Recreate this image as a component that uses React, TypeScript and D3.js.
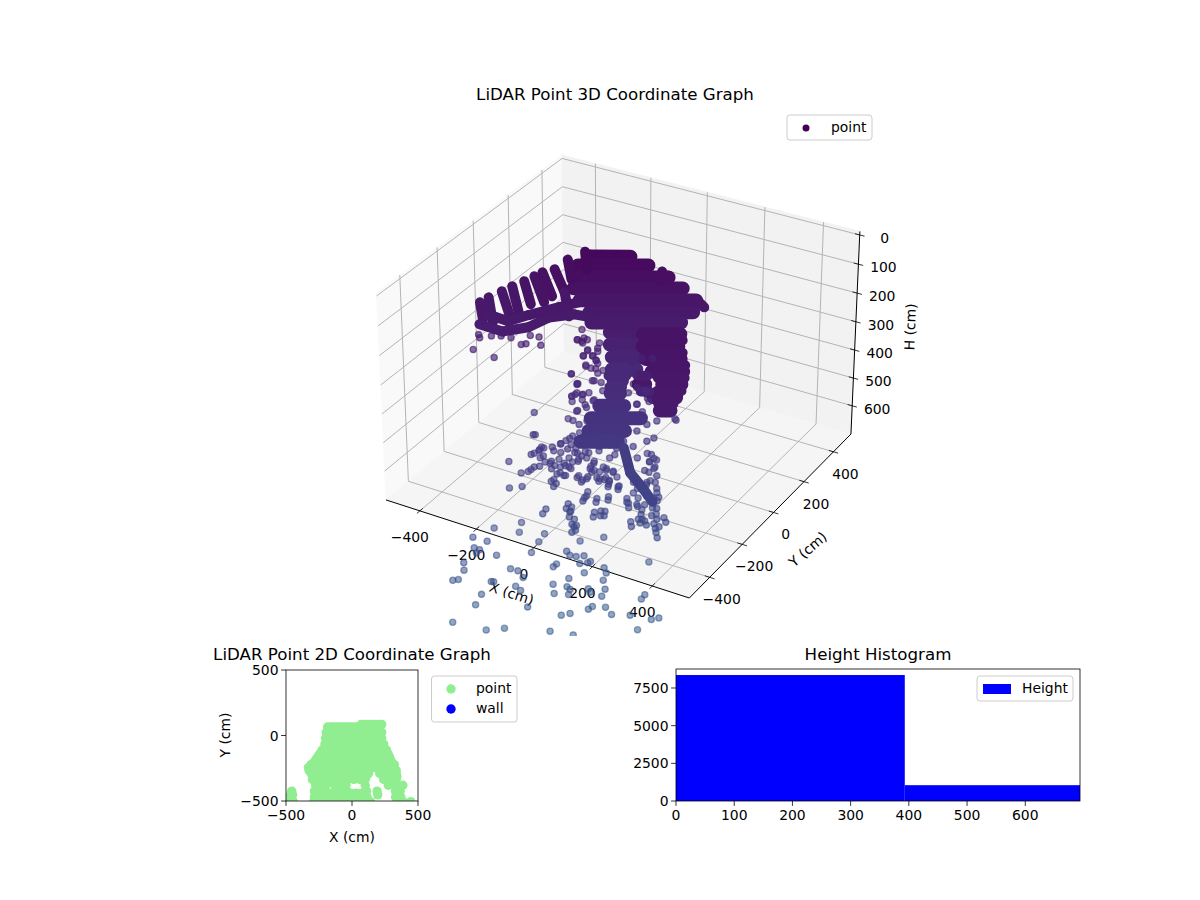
import React from "react";
import * as d3 from "d3";

type P = [number, number, number];

// ---- 3D scatter: isolated points, x, y, height in cm
const frontPoints: P[] = [
[72,-1069,614],[164,-1041,625],[205,-1011,623],[319,-955,627],[380,-932,632],[527,-830,625],[562,-772,608],[546,-786,610],[489,-805,604],[443,-829,603],
[419,-821,592],[386,-837,591],[380,-849,595],[342,-885,601],[323,-901,604],[101,-995,589],[100,-962,574],[10,-969,553],[22,-959,552],[22,-929,538],
[10,-911,527],[13,-860,505],[29,-857,508],[26,-869,513],[79,-847,516],[-6,-836,489],[35,-826,495],[32,-783,476],[100,-758,482],[91,-731,467],
[133,-860,536],[154,-855,539],[176,-863,549],[230,-928,592],[105,-918,555],[111,-915,555],[171,-895,562],[189,-898,568],[259,-838,559],[275,-859,572],
[296,-824,563],[308,-827,566],[311,-841,574],[289,-802,550],[351,-800,565],[360,-806,570],[394,-799,576],[392,-777,566],[375,-758,553],[372,-736,542],
[359,-726,535],[318,-766,542],[294,-750,528],[312,-737,527],[317,-730,525],[293,-725,517],[275,-738,518],[258,-744,516],[244,-738,510],[262,-694,495],
[315,-652,489],[234,-795,533],[238,-784,529],[162,-754,496],[164,-726,484],[160,-791,512],[460,-649,526],[494,-751,580],[496,-735,574],
];
const middlePoints: P[] = [
[436,-566,482],[434,-517,460],[418,-547,469],[358,-574,466],[373,-557,462],[382,-552,462],[391,-552,465],[410,-519,454],[216,-648,462],[230,-660,472],
[226,-667,474],[131,-663,447],[178,-618,439],[191,-621,444],[195,-633,450],[208,-559,421],[209,-580,430],[241,-564,431],[267,-543,428],[255,-602,452],
[269,-589,450],[280,-585,450],[315,-521,431],[326,-531,438],[9,-662,415],[38,-640,413],[15,-607,392],[34,-584,387],[-33,-596,374],[-9,-489,333],
[-46,-433,298],[317,-246,308],[49,-400,308],[23,-336,273],[19,-294,253],[17,-538,362],[25,-521,356],[33,-511,354],[53,-497,352],[68,-476,347],
[77,-460,342],[87,-439,335],[99,-420,330],[39,-541,369],[58,-545,375],[72,-534,374],[88,-518,371],[111,-500,369],[125,-476,362],[142,-461,359],
[96,-463,349],[113,-465,354],[126,-446,349],[87,-540,381],[103,-536,383],[114,-525,381],[126,-506,375],[137,-490,371],[155,-475,369],[179,-473,374],
[178,-490,382],[193,-497,388],[106,-577,402],[118,-584,408],[111,-550,392],[129,-550,396],[162,-532,396],[178,-537,403],[186,-521,398],[218,-510,401],
[220,-474,385],[241,-471,389],[259,-481,398],[245,-500,404],[232,-498,399],[249,-511,409],[276,-504,413],[208,-492,390],[210,-474,383],[308,-471,406],
[330,-470,412],[341,-452,406],[362,-440,406],[381,-464,422],[380,-482,430],[361,-487,427],[342,-504,430],[323,-498,422],[348,-522,440],[368,-528,448],
[392,-509,445],[393,-484,434],[338,-406,385],[331,-423,391],[317,-395,375],[323,-379,370],[299,-376,362],[347,-442,404],
];
const upperPoints: P[] = [
[49,-315,269],[60,-365,295],[78,-345,290],[84,-317,280],[85,-399,317],[111,-384,317],[118,-357,306],[118,-416,333],[138,-391,327],[166,-400,338],
[193,-408,349],[170,-427,351],[215,-407,354],[222,-379,343],[254,-379,351],[280,-345,343],[240,-333,327],[293,-327,338],[275,-278,311],[255,-301,317],
[220,-299,306],[199,-263,285],[210,-222,269],[160,-214,253],[-301,-357,198],[-235,-347,211],[-304,-316,179],[-312,-309,174],[-329,-282,157],[-277,-294,176],
[-252,-280,176],[-224,-270,179],[-187,-273,190],[-176,-264,189],[-136,-246,191],[-178,-236,175],[-154,-226,178],[-38,-175,185],[-52,-178,182],[-26,-163,182],
[-10,-213,208],[13,-199,208],[-9,-190,198],[14,-171,196],[28,-205,215],[12,-236,225],[41,-228,229],[-13,-278,237],[18,-297,254],[56,-263,248],
[29,-327,270],[47,-317,270],[180,-216,259],[217,-231,276],
];
const trunkPoints: P[] = [
[-51,-177,182],[-33,-178,188],[-37,-163,179],[-56,-143,166],[10,-153,188],[19,-179,201],[-8,-192,200],[-11,-212,208],[13,-198,208],[30,-206,216],
[10,-233,223],[28,-234,228],[53,-237,236],[51,-265,248],[-13,-277,237],[17,-295,252],[62,-222,232],[76,-257,251],[38,-212,220],[31,-320,267],
[23,-336,273],[32,-349,281],[55,-330,278],[61,-302,267],[85,-313,278],[70,-339,286],[59,-369,296],[64,-398,311],[99,-378,311],[104,-327,289],
[93,-277,264],[129,-349,306],[175,-218,259],[200,-262,285],[169,-118,212],[322,-248,310],[202,-215,264],[226,-238,281],[225,-275,297],[122,-157,218],
[145,-186,237],[143,-133,212],[161,-245,267],
[-14,-492,333],[11,-545,364],[25,-525,358],[26,-512,352],[44,-532,366],[38,-573,383],[50,-563,382],[30,-593,390],[72,-541,377],[84,-553,386],
[102,-585,405],[116,-595,413],[105,-558,394],[125,-553,396],[132,-525,385],[161,-539,399],[178,-544,406],[186,-528,401],[211,-572,427],[210,-590,435],
[244,-574,437],[271,-552,433],[220,-517,405],[222,-479,388],[242,-474,391],[246,-502,405],[251,-518,413],[277,-500,412],[280,-511,417],[259,-615,459],
[275,-602,457],[284,-597,457],[180,-632,446],[194,-636,451],[200,-649,459],[217,-663,470],[235,-674,479],[229,-684,482],[130,-679,454],[367,-586,473],
[383,-564,468],[401,-560,471],[428,-556,476],[435,-547,473],[445,-526,467],[446,-577,490],[320,-530,437],[333,-542,445],[353,-526,443],[373,-541,455],
[401,-529,457],[419,-531,462],[392,-473,429],[403,-504,446],[380,-492,435],[368,-512,440],[317,-394,374],[356,-421,396],[318,-424,388],[281,-402,369],
[311,-373,364],[332,-380,372],[305,-462,402],[326,-480,416],[343,-459,410],[374,-453,416],[338,-400,383],
[69,-475,347],[83,-449,339],[62,-504,358],[82,-498,361],[94,-479,355],[117,-478,361],[139,-477,366],[152,-458,361],[181,-479,377],[180,-498,385],
[189,-504,391],[210,-511,399],[231,-505,402],[212,-442,369],[220,-426,364],[115,-425,336],[147,-430,347],[175,-439,358],[183,-404,344],[208,-395,347],
[107,-521,377],[125,-523,383],[139,-496,374],
];

// ---- dense scan bands, each a run of vertices x, y, height
const massBands: P[][] = [
[[-153,70,45],[-48,130,45]],
[[-170,27,60],[13,132,60]],
[[-159,-11,80],[84,129,80]],
[[-144,-43,98],[138,119,98]],
[[-109,-67,118],[191,106,118]],
[[-64,-85,137],[202,68,137]],
[[-43,-110,154],[187,22,154]],
];
const trunkBands: P[][] = [
[[20,-110,170],[125,-50,170]],
[[39,-143,190],[118,-98,190]],
[[64,-174,210],[137,-132,210]],
[[83,-207,230],[145,-171,230]],
[[105,-234,248],[126,-222,248]],
[[117,-272,268],[140,-258,268]],
[[107,-321,288],[170,-285,288]],
[[105,-366,307],[231,-294,307]],
[[119,-403,327],[210,-350,327]],
[[114,-442,344],[208,-388,344]],
];
const legBands: P[][] = [
[[172,-180,99],[266,-126,99]],
[[201,-232,106],[290,-181,106]],
[[238,-278,114],[324,-228,114]],
[[281,-321,122],[359,-276,122]],
[[278,-390,130],[294,-381,130]],
[[336,-357,130],[383,-330,130]],
[[344,-420,138],[399,-389,138]],
[[389,-465,145],[415,-450,145]],
];
const ribStrands: P[][] = [
[[-362,-220,121],[-326,-262,149]],
[[-348,-194,113],[-296,-255,154]],
[[-324,-158,103],[-259,-216,146]],
[[-306,-128,95],[-246,-190,137]],
[[-283,-97,86],[-228,-150,124]],
[[-265,-68,78],[-197,-125,121]],
[[-250,-46,71],[-186,-97,111]],
[[-224,-19,66],[-160,-68,104],[-110,-126,144]],
[[-206,28,50],[-164,-21,83]],
[[-174,76,37],[-140,29,66]],
[[58,136,70],[70,106,86]],
[[198,106,119],[223,98,129]],
[[-327,-280,157],[-256,-265,169],[-197,-216,162],[-160,-159,146],[-100,-113,141],[-51,-96,146]],
[[-322,-241,141],[-258,-230,152],[-216,-183,142],[-150,-116,129],[-106,-72,121]],
[[233,-396,354],[285,-450,392],[341,-473,416],[383,-493,436]],
[[207,-193,103],[286,-148,103]],
[[237,-245,110],[315,-200,110]],
[[272,-293,118],[350,-248,118]],
[[311,-338,126],[377,-300,126]],
[[338,-390,134],[398,-356,134]],
[[370,-440,142],[407,-419,142]],
[[209,-275,180],[233,-262,180]],
[[241,-313,204],[262,-301,204]],
[[104,-257,258],[136,-239,258]],
[[84,-228,240],[129,-202,240]],
];

// ---- 3D axes
const xyTicks = [-400, -200, 0, 200, 400];
const heightTicks = [0, 100, 200, 300, 400, 500, 600];
const horizontalLimits = [-522, 522];
const heightLimits = [-12, 703];

// ---- 2D footprint: rows of [y, x values...] in cm
const footprintRows: number[][] = [
[85,70,90,115,135,160,180,205,225],
[65,-185,-160,-140,-115,-95,-70,-50,-25,-5,20,40,65],
[25,-195,-150,-105,-60,-15,30,75,120,165,210,225],
[-20,-200,-155,-110,-65,-20,25,70,115,160,205,225],
[-65,-205,-160,-115,-70,-25,20,65,110,155,200,240],
[-110,-225,-180,-135,-90,-45,0,45,90,135,180,225,260],
[-135,-240,270],
[-155,-255,-210,-165,-120,-75,-30,15,60,105,150,195,240,280],
[-178,-270,290],
[-200,-285,-240,-195,-150,-105,-60,-15,30,75,120,165,210,255,300],
[-222,-310,320],
[-245,-330,-290,-240,-195,-150,-105,-60,-15,30,75,120,165,210,255,300,320],
[-268,-325,335],
[-290,-310,-265,-220,-175,-130,-85,-40,5,50,95,125,210,255,300,335],
[-312,340,108],
[-335,-300,-255,-210,-165,-120,-75,-30,15,60,100,240,285,335],
[-380,-275,-240,-195,-130,-85,-45,100,275,320,385],
[-425,-285,-240,-130,-85,-40,110,330,365,190,-457],
[-440,-190,-150,-10,30,70],
[-453,-450,195],
[-470,-285,-245,-200,-155,-110,-65,-20,25,70,115,330,370,-487],
[-505,-290,-245,-200,-155,-110,-65,-20,25,70,115,140,345,385,445,-490,-445],
];
const footprintTicks = [-500, 0, 500];

// ---- histogram
const binEdges = [0, 393, 694];
const binCounts = [8360, 1050];
const histXTicks = [0, 100, 200, 300, 400, 500, 600];
const histYTicks = [0, 2500, 5000, 7500];

const FONT = "DejaVu Sans";
const fmt = (v: number) => String(v).replace("-", "\u2212");

// same camera as the reference: elevation 30, azimuth -60, distance 10
const worldX = d3.scaleLinear().domain(horizontalLimits).range([-0.5715, 0.5715]);
const worldZ = d3.scaleLinear().domain(heightLimits).range([0.39, -0.39]);
const viewX = d3.scaleLinear().domain([-0.07796, 0.08]).range([386, 386 + (0.08 + 0.07796) * 3035]);
const viewY = d3.scaleLinear().domain([-0.07649, 0.08]).range([598, 598 - (0.08 + 0.07649) * 3035]);

function project(x: number, y: number, h: number): [number, number] {
  const qx = worldX(x), qy = worldX(y), qz = worldZ(h);
  const u = 0.866 * qx + 0.5 * qy;
  const v = -0.25 * qx + 0.433 * qy + 0.866 * qz;
  const w = 0.433 * qx - 0.75 * qy + 0.5 * qz;
  const den = 10 - w;
  return [viewX(u / den), viewY(v / den)];
}

const heightColor = d3.scaleSequential(d3.interpolateViridis).domain([0, 2100]);
const linePath = d3.line();

const Txt = (p: any) => <text fontFamily={FONT} fontSize={13.9} fill="#000" {...p} />;

function Pane3D() {
  const [lo, hi] = horizontalLimits;
  const [top, bot] = heightLimits;
  const poly = (pts: P[], fill: string) => (
    <polygon points={pts.map((p) => project(...p).join(",")).join(" ")} fill={fill} stroke={fill} strokeWidth={0.8} />
  );
  const seg = (a: P, b: P, key: string, stroke = "#b4b4b4", w = 1) => (
    <path key={key} d={linePath([project(...a), project(...b)]) as string} stroke={stroke} strokeWidth={w} fill="none" />
  );
  return (
    <g>
      {poly([[lo, lo, top], [lo, hi, top], [lo, hi, bot], [lo, lo, bot]], "#f9f9f9")}
      {poly([[lo, hi, top], [hi, hi, top], [hi, hi, bot], [lo, hi, bot]], "#f2f2f2")}
      {poly([[lo, lo, bot], [hi, lo, bot], [hi, hi, bot], [lo, hi, bot]], "#f5f5f5")}
      {xyTicks.map((t) => (
        <g key={t}>
          {seg([t, lo, bot], [t, hi, bot], "fx")}
          {seg([t, hi, bot], [t, hi, top], "bx")}
          {seg([lo, t, bot], [hi, t, bot], "fy")}
          {seg([lo, t, bot], [lo, t, top], "ly")}
        </g>
      ))}
      {heightTicks.map((t) => (
        <g key={t}>
          {seg([lo, lo, t], [lo, hi, t], "lh")}
          {seg([lo, hi, t], [hi, hi, t], "bh")}
        </g>
      ))}
      {seg([lo, lo, bot], [hi, lo, bot], "ax", "#000", 1)}
      {seg([hi, lo, bot], [hi, hi, bot], "ay", "#000", 1)}
      {seg([hi, hi, bot], [hi, hi, top], "az", "#000", 1)}
      {xyTicks.map((t) => {
        const [lx, ly] = project(t, lo, bot);
        const [mx, my] = project(hi, t, bot);
        return (
          <g key={t}>
            {seg([t, lo - 16, bot], [t, lo + 16, bot], "tx", "#000", 0.8)}
            {seg([hi - 16, t, bot], [hi + 16, t, bot], "ty", "#000", 0.8)}
            <Txt x={lx - 10} y={ly + 31} textAnchor="middle">{fmt(t)}</Txt>
            <Txt x={mx + 12} y={my + 27} textAnchor="middle">{fmt(t)}</Txt>
          </g>
        );
      })}
      {heightTicks.map((t) => {
        const [tx, ty] = project(hi, hi, t);
        return (
          <g key={t}>
            {seg([hi - 16, hi, t], [hi + 16, hi, t], "th", "#000", 0.8)}
            <Txt x={tx + 25} y={ty + 8} textAnchor="middle">{fmt(t)}</Txt>
          </g>
        );
      })}
      <Txt transform="translate(510,598) rotate(18)" textAnchor="middle">X (cm)</Txt>
      <Txt transform="translate(811,553) rotate(-41)" textAnchor="middle">Y (cm)</Txt>
      <Txt transform="translate(915,327) rotate(-88)" textAnchor="middle">H (cm)</Txt>
    </g>
  );
}

function Strands({ rows, width }: { rows: P[][]; width: number }) {
  return (
    <g>
      {rows.map((row, i) =>
        d3.pairs(row).map(([a, b], j) => (
          <path
            key={`${i}-${j}`}
            d={linePath([project(...a), project(...b)]) as string}
            stroke={heightColor((a[2] + b[2]) / 2)}
            strokeWidth={width}
            strokeLinecap="round"
            fill="none"
          />
        ))
      )}
    </g>
  );
}

function Dots({ points, alpha }: { points: P[]; alpha: number }) {
  return (
    <g>
      {points.map((p, i) => {
        const [cx, cy] = project(...p);
        const c = heightColor(p[2]);
        return <circle key={i} cx={cx} cy={cy} r={3.1} fill={c} fillOpacity={alpha} stroke={c} strokeOpacity={alpha} strokeWidth={1.3} />;
      })}
    </g>
  );
}

function Scatter3D() {
  return (
    <g clipPath="url(#clip3d)">
      <Dots points={upperPoints} alpha={0.65} />
      <Strands rows={trunkBands} width={14} />
      <Strands rows={massBands} width={14} />
      <Strands rows={legBands} width={14} />
      <Strands rows={ribStrands} width={10} />
      <Dots points={trunkPoints} alpha={0.62} />
      <Dots points={middlePoints} alpha={0.6} />
      <Dots points={frontPoints} alpha={0.55} />
    </g>
  );
}

function Frame({ l, r, t, b }: { l: number; r: number; t: number; b: number }) {
  return <rect x={l} y={t} width={r - l} height={b - t} fill="none" stroke="#000" strokeWidth={0.8} />;
}

function Footprint() {
  const l = 286, r = 418, t = 670, b = 801;
  const x = d3.scaleLinear().domain([-500, 500]).range([l, r]);
  const y = d3.scaleLinear().domain([-500, 500]).range([b, t]);
  return (
    <g>
      <clipPath id="clip2d"><rect x={l} y={t} width={r - l} height={b - t} /></clipPath>
      <g clipPath="url(#clip2d)">
        {footprintRows.flatMap((row, i) =>
          row.slice(1).map((v, j) => <circle key={`${i}-${j}`} cx={x(v)} cy={y(row[0])} r={4.7} fill="#90ee90" />)
        )}
      </g>
      <Frame l={l} r={r} t={t} b={b} />
      {footprintTicks.map((v) => (
        <g key={v}>
          <line x1={x(v)} x2={x(v)} y1={b} y2={b + 4.9} stroke="#000" strokeWidth={0.8} />
          <Txt x={x(v)} y={b + 19} textAnchor="middle">{fmt(v)}</Txt>
          <line x1={l - 4.9} x2={l} y1={y(v)} y2={y(v)} stroke="#000" strokeWidth={0.8} />
          <Txt x={l - 7.5} y={y(v) + 5} textAnchor="end">{fmt(v)}</Txt>
        </g>
      ))}
      <Txt x={352} y={660} fontSize={16.67} textAnchor="middle">LiDAR Point 2D Coordinate Graph</Txt>
      <Txt x={352} y={842} textAnchor="middle">X (cm)</Txt>
      <Txt transform="translate(230,735) rotate(-90)" textAnchor="middle">Y (cm)</Txt>
      <rect x={431.5} y={676} width={85.5} height={46} rx={3} fill="#fff" stroke="#ccc" strokeWidth={1} />
      <circle cx={451} cy={689} r={4.7} fill="#90ee90" />
      <circle cx={451} cy={709} r={4.7} fill="#0000ff" />
      <Txt x={476} y={693}>point</Txt>
      <Txt x={476} y={713}>wall</Txt>
    </g>
  );
}

function Histogram() {
  const l = 676, r = 1080, t = 669, b = 801;
  const x = d3.scaleLinear().domain([0, 694]).range([l, r]);
  const y = d3.scaleLinear().domain([0, 8760]).range([b, t]);
  return (
    <g>
      {binCounts.map((c, i) => (
        <rect key={i} x={x(binEdges[i])} y={y(c)} width={x(binEdges[i + 1]) - x(binEdges[i])} height={b - y(c)} fill="#0000ff" />
      ))}
      <Frame l={l} r={r} t={t} b={b} />
      {histXTicks.map((v) => (
        <g key={v}>
          <line x1={x(v)} x2={x(v)} y1={b} y2={b + 4.9} stroke="#000" strokeWidth={0.8} />
          <Txt x={x(v)} y={b + 19} textAnchor="middle">{v}</Txt>
        </g>
      ))}
      {histYTicks.map((v) => (
        <g key={v}>
          <line x1={l - 4.9} x2={l} y1={y(v)} y2={y(v)} stroke="#000" strokeWidth={0.8} />
          <Txt x={l - 7.5} y={y(v) + 5} textAnchor="end">{v}</Txt>
        </g>
      ))}
      <Txt x={878} y={660} fontSize={16.67} textAnchor="middle">Height Histogram</Txt>
      <rect x={977} y={676} width={96} height={25} rx={3} fill="#fff" stroke="#ccc" strokeWidth={1} />
      <rect x={983} y={684} width={28} height={10} fill="#0000ff" />
      <Txt x={1022} y={693}>Height</Txt>
    </g>
  );
}

export default function App() {
  return (
    <svg width={1200} height={900} style={{ position: "absolute", left: 0, top: 0, display: "block" }}>
      <rect width={1200} height={900} fill="#fff" />
      <clipPath id="clip3d"><rect x={300} y={108} width={640} height={528} /></clipPath>
      <Pane3D />
      <Scatter3D />
      <Txt x={615} y={100} fontSize={16.67} textAnchor="middle">LiDAR Point 3D Coordinate Graph</Txt>
      <rect x={787} y={115} width={85} height={25} rx={3} fill="#fff" stroke="#ccc" strokeWidth={1} />
      <circle cx={806} cy={128} r={3.5} fill="#440154" />
      <Txt x={831} y={132}>point</Txt>
      <Footprint />
      <Histogram />
    </svg>
  );
}
